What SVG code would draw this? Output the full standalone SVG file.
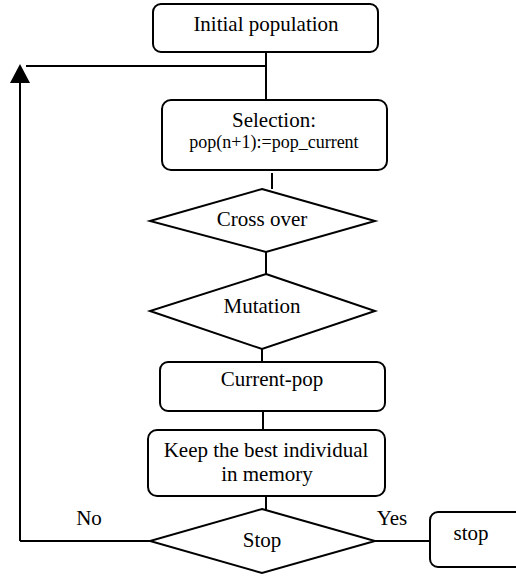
<svg xmlns="http://www.w3.org/2000/svg" width="516" height="576" viewBox="0 0 516 576">
<defs>
<style>
.n{fill:#fff;stroke:#000;stroke-width:2}
.c{fill:none;stroke:#000;stroke-width:2}
text{font-family:"Liberation Serif","Times New Roman",serif;font-size:21px;fill:#000;text-anchor:middle}
.s{font-size:18px}
</style>
</defs>
<rect width="516" height="576" fill="#fff"/>
<g id="connectors">
<path class="c" d="M266 52V100"/>
<path class="c" d="M266 66H26"/>
<path class="c" d="M20 541V82"/>
<polygon points="20,64 10,83 30,83" fill="#000"/>
<path class="c" d="M150 541H20"/>
<path class="c" d="M272 173V189"/>
<path class="c" d="M266 252V277"/>
<path class="c" d="M262 349V362"/>
<path class="c" d="M263 411V430"/>
<path class="c" d="M266 496V510"/>
<path class="c" d="M375 541H430"/>
</g>
<g id="initial"><rect class="n" x="153" y="4" width="225" height="48" rx="8"/><text x="266" y="31">Initial population</text></g>
<g id="selection"><rect class="n" x="162" y="100" width="225" height="70" rx="9"/><text x="274" y="127">Selection:</text><text class="s" x="274" y="148">pop(n+1):=pop_current</text></g>
<g id="crossover"><polygon class="n" points="262,189 375,221 266,252 150,221"/><text x="262" y="226">Cross over</text></g>
<g id="mutation"><polygon class="n" points="266,274 375,311 262,349 150,311"/><text x="262" y="313">Mutation</text></g>
<g id="currentpop"><rect class="n" x="160" y="362" width="225" height="49" rx="8"/><text x="272" y="386">Current-pop</text></g>
<g id="keep"><rect class="n" x="148" y="430" width="237" height="66" rx="9"/><text x="266" y="457">Keep the best individual</text><text x="267" y="481">in memory</text></g>
<g id="stopdecision"><polygon class="n" points="262,509 375,541 262,573 150,541"/><text x="262" y="547">Stop</text></g>
<g id="stopend"><rect class="n" x="430" y="512" width="100" height="55" rx="8"/><text x="471" y="540">stop</text></g>
<g id="labels"><text x="89" y="525">No</text><text x="392" y="525">Yes</text></g>
</svg>
